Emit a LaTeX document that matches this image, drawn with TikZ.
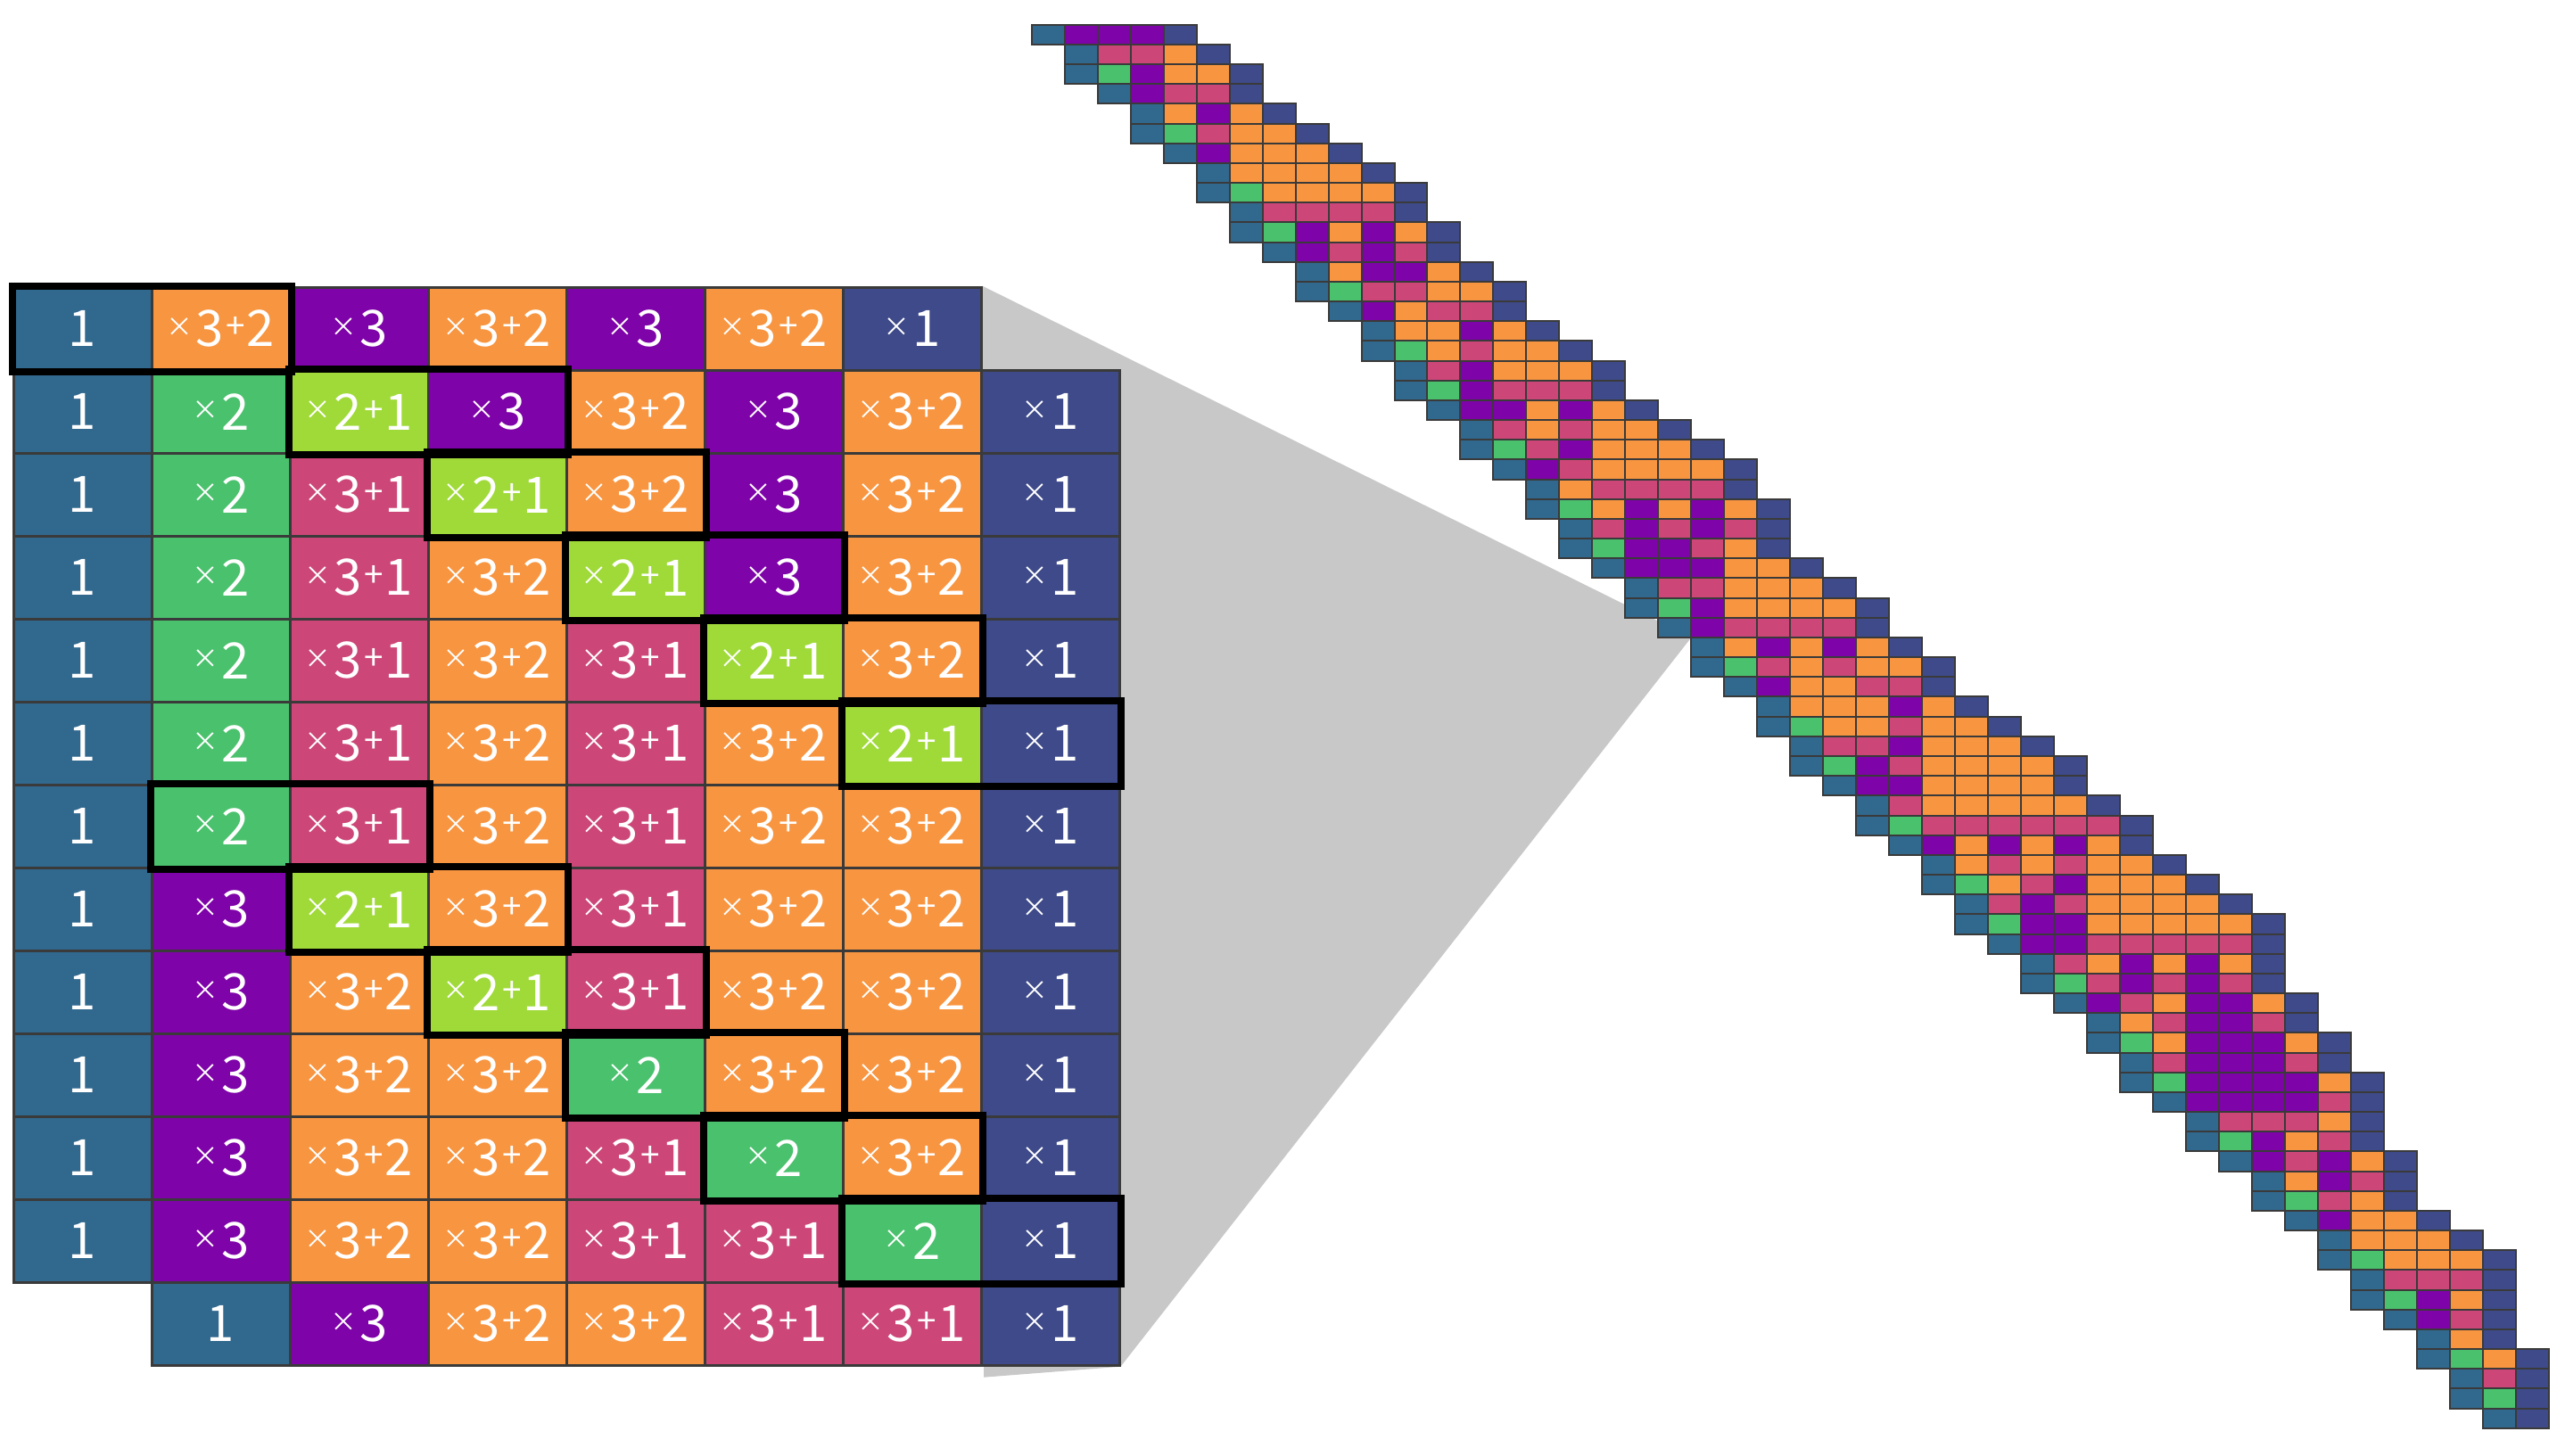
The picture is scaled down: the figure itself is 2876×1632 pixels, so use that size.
\documentclass[tikz,border=0pt]{standalone}
\usepackage{fontspec}
\newfontfamily\cjk{Noto Sans CJK JP}
\usetikzlibrary{calc,positioning}
\pgfdeclarelayer{background}
\pgfsetlayers{background,main}

\definecolor{cB}{HTML}{31688E}
\definecolor{cN}{HTML}{3E4A89}
\definecolor{cG}{HTML}{4AC16D}
\definecolor{cL}{HTML}{A0DA39}
\definecolor{cP}{HTML}{7E03A8}
\definecolor{cR}{HTML}{CC4778}
\definecolor{cO}{HTML}{F89540}
\definecolor{gridline}{HTML}{3A3A3A}
\definecolor{fangrey}{HTML}{C8C8C8}

\newcommand{\tm}{\raisebox{0.2em}{\fontsize{8.5}{8.5}\selectfont ×}\kern0.05em}
\newcommand{\pl}{\kern0.04em\raisebox{0.16em}{\fontsize{11}{11}\selectfont +}\kern0.04em}
\def\labB{1}
\def\labG{\tm2}
\def\labL{\tm2\pl1}
\def\labP{\tm3}
\def\labR{\tm3\pl1}
\def\labO{\tm3\pl2}
\def\labN{\tm1}

\tikzset{
    bigcell/.style={
        draw=gridline,
        line width=0.3mm,
        minimum width=15.5mm,
        minimum height=9.3mm,
        inner sep=0pt,
        text=white,
        font=\cjk\fontsize{16}{16}\selectfont,
        anchor=north west
    },
    smallcell/.style={draw=gridline, line width=0.2mm},
    carrybox/.style={draw=black, line width=0.8mm}
}

\begin{document}
\begin{tikzpicture}[x=0.1mm,y=-0.1mm]
        \useasboundingbox (0,0) rectangle (2876,1632);
        \def\gx{13.5}
        \def\gy{320.7}
        \def\gw{155}
        \def\gh{93}
        \def\bx{1156.7}
        \def\by{27.7}
        \def\bw{36.98}
        \def\bh{22.17}

        % zoomed rows
        \foreach \r/\s/\cells in {
            0/0/{B,O,P,O,P,O,N},
            1/0/{B,G,L,P,O,P,O,N},
            2/0/{B,G,R,L,O,P,O,N},
            3/0/{B,G,R,O,L,P,O,N},
            4/0/{B,G,R,O,R,L,O,N},
            5/0/{B,G,R,O,R,O,L,N},
            6/0/{B,G,R,O,R,O,O,N},
            7/0/{B,P,L,O,R,O,O,N},
            8/0/{B,P,O,L,R,O,O,N},
            9/0/{B,P,O,O,G,O,O,N},
            10/0/{B,P,O,O,R,G,O,N},
            11/0/{B,P,O,O,R,R,G,N},
            12/1/{B,P,O,O,R,R,N}} {
            \foreach \k [count=\i from \s] in \cells
                \node[bigcell, fill=c\k] (g\r-\i) at ({\gx+\i*\gw},{\gy+\r*\gh}) {\csname lab\k\endcsname};
        }

        \foreach \r/\a in {0/0,1/2,2/3,3/4,4/5,5/6,6/1,7/2,8/3,9/4,10/5,11/6} {
            \pgfmathtruncatemacro\b{\a+1}
            \draw[carrybox] (g\r-\a.north west) rectangle (g\r-\b.south east);
        }

        % full band
        \foreach \r/\s/\cells in {
            0/0/{B,P,P,P,N},
            1/1/{B,R,R,O,N},
            2/1/{B,G,P,O,O,N},
            3/2/{B,P,R,R,N},
            4/3/{B,O,P,O,N},
            5/3/{B,G,R,O,O,N},
            6/4/{B,P,O,O,O,N},
            7/5/{B,O,O,O,O,N},
            8/5/{B,G,O,O,O,O,N},
            9/6/{B,R,R,R,R,N},
            10/6/{B,G,P,O,P,O,N},
            11/7/{B,P,R,P,R,N},
            12/8/{B,O,P,P,O,N},
            13/8/{B,G,R,R,O,O,N},
            14/9/{B,P,O,R,R,N},
            15/10/{B,O,O,P,O,N},
            16/10/{B,G,O,R,O,O,N},
            17/11/{B,R,P,O,O,O,N},
            18/11/{B,G,P,R,R,R,N},
            19/12/{B,P,P,O,P,O,N},
            20/13/{B,R,O,R,O,O,N},
            21/13/{B,G,R,P,O,O,O,N},
            22/14/{B,P,R,O,O,O,O,N},
            23/15/{B,O,R,R,R,R,N},
            24/15/{B,G,O,P,O,P,O,N},
            25/16/{B,R,P,R,P,R,N},
            26/16/{B,G,P,P,R,O,N},
            27/17/{B,P,P,P,O,O,N},
            28/18/{B,R,R,O,O,O,N},
            29/18/{B,G,P,O,O,O,O,N},
            30/19/{B,P,R,R,R,R,N},
            31/20/{B,O,P,O,P,O,N},
            32/20/{B,G,R,O,R,O,O,N},
            33/21/{B,P,O,O,R,R,N},
            34/22/{B,O,O,O,P,O,N},
            35/22/{B,G,O,O,R,O,O,N},
            36/23/{B,R,R,P,O,O,O,N},
            37/23/{B,G,P,R,O,O,O,O,N},
            38/24/{B,P,P,O,O,O,O,N},
            39/25/{B,R,O,O,O,O,O,N},
            40/25/{B,G,R,R,R,R,R,R,N},
            41/26/{B,P,O,P,O,P,O,N},
            42/27/{B,O,R,O,R,O,O,N},
            43/27/{B,G,O,R,P,O,O,O,N},
            44/28/{B,R,P,R,O,O,O,O,N},
            45/28/{B,G,P,P,O,O,O,O,O,N},
            46/29/{B,P,P,R,R,R,R,R,N},
            47/30/{B,R,O,P,O,P,O,N},
            48/30/{B,G,R,P,R,P,R,N},
            49/31/{B,P,R,O,P,P,O,N},
            50/32/{B,O,R,P,P,R,N},
            51/32/{B,G,O,P,P,P,O,N},
            52/33/{B,R,P,P,P,R,N},
            53/33/{B,G,P,P,P,P,O,N},
            54/34/{B,P,P,P,P,R,N},
            55/35/{B,R,R,R,O,N},
            56/35/{B,G,P,O,R,N},
            57/36/{B,P,R,P,O,N},
            58/37/{B,O,P,R,N},
            59/37/{B,G,R,O,N},
            60/38/{B,P,O,O,N},
            61/39/{B,O,O,O,N},
            62/39/{B,G,O,O,O,N},
            63/40/{B,R,R,R,N},
            64/40/{B,G,P,O,N},
            65/41/{B,P,R,N},
            66/42/{B,O,N},
            67/42/{B,G,O,N},
            68/43/{B,R,N},
            69/43/{B,G,N},
            70/44/{B,N}} {
            \foreach \k [count=\i from \s] in \cells
                \filldraw[smallcell, fill=c\k] ({\bx+\i*\bw},{\by+\r*\bh}) rectangle ++(\bw,\bh);
        }
        \coordinate (apex) at ({\bx+20*\bw},{\by+31*\bh});

        \begin{pgfonlayer}{background}
            \fill[fangrey] (g0-6.north east) -- (apex) -- (g12-7.south east)
                -- ($(g12-7.south west)+(4.5,12)$) -- cycle;
        \end{pgfonlayer}
\end{tikzpicture}
\end{document}
